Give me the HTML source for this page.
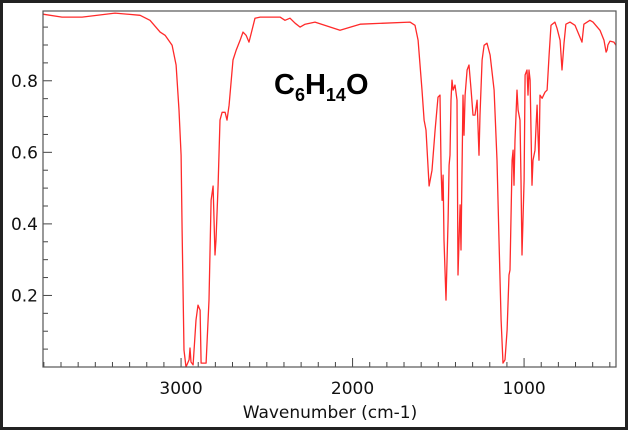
<!DOCTYPE html>
<html><head><meta charset="utf-8"><style>
html,body{margin:0;padding:0;background:#fff}
svg{display:block}
text{font-family:"DejaVu Sans","Liberation Sans",sans-serif}
</style></head><body>
<svg id="c" width="628" height="430" viewBox="0 0 628 430">
<rect x="1.5" y="1.5" width="625" height="427" fill="#fff" stroke="#222" stroke-width="3"/>
<g id="axes"></g>
<text x="274" y="94" font-weight="bold" font-size="29" style="font-family:'Liberation Sans',sans-serif">C<tspan font-size="18" dy="7">6</tspan><tspan dy="-7">H</tspan><tspan font-size="18" dy="7">14</tspan><tspan dy="-7">O</tspan></text>
<text x="330" y="418" text-anchor="middle" font-size="17" fill="#111">Wavenumber (cm-1)</text>
</svg>
<script>
const wavenumbers=[3805,3694,3577,3385,3239,3181,3122,3093,3052,3029,3012,3000,2994,2983,2971,2953,2948,2942,2930,2913,2901,2889,2883,2854,2837,2825,2813,2802,2796,2784,2773,2761,2743,2732,2720,2697,2679,2656,2639,2621,2604,2569,2539,2423,2394,2365,2335,2306,2277,2219,2073,1956,1665,1636,1618,1595,1583,1572,1554,1537,1519,1502,1490,1484,1478,1472,1467,1455,1443,1437,1432,1426,1420,1414,1403,1391,1385,1373,1368,1356,1350,1344,1332,1321,1309,1298,1286,1274,1263,1257,1245,1233,1216,1198,1175,1158,1146,1134,1123,1111,1099,1088,1082,1070,1064,1059,1053,1041,1035,1024,1018,1012,1000,994,983,977,971,965,954,948,936,930,924,919,913,907,895,878,866,854,843,820,808,790,779,767,756,732,703,662,651,616,598,557,534,522,516,511,499,476,464];
const transmittance=[.986,.978,.978,.989,.983,.969,.936,.927,.899,.844,.718,.592,.383,.047,0,.02,.053,.014,.006,.131,.173,.159,.011,.011,.187,.466,.506,.313,.355,.508,.690,.712,.712,.690,.732,.858,.885,.913,.936,.927,.908,.975,.978,.978,.969,.975,.961,.950,.958,.964,.941,.958,.964,.955,.913,.774,.690,.662,.506,.550,.662,.754,.760,.550,.466,.536,.355,.187,.411,.564,.592,.746,.802,.774,.788,.746,.257,.453,.327,.760,.648,.760,.830,.844,.774,.704,.704,.746,.592,.704,.858,.899,.905,.872,.774,.578,.355,.131,.011,.020,.103,.257,.271,.578,.606,.508,.634,.774,.718,.690,.522,.313,.522,.816,.830,.760,.830,.802,.508,.578,.606,.676,.732,.648,.578,.760,.751,.768,.774,.872,.955,.964,.947,.913,.830,.905,.958,.964,.955,.908,.958,.969,.964,.941,.913,.880,.886,.900,.911,.908,.899];
const yTicks=[0.2,0.4,0.6,0.8];
const xTicks=[3000,2000,1000];
const L=43,R=616,T=11,B=367,X0=3805,X1=464,Y0=0,Y1=0.995;
const sx=w=>L+(X0-w)/(X0-X1)*(R-L);
const sy=v=>B-(v-Y0)/(Y1-Y0)*(B-T);
const NS='http://www.w3.org/2000/svg';
const g=document.getElementById('axes');
function mk(t,a){const e=document.createElementNS(NS,t);for(const k in a)e.setAttribute(k,a[k]);g.appendChild(e);return e;}
let d='';
for(let i=0;i<wavenumbers.length;i++){d+=(i?'L':'M')+sx(wavenumbers[i]).toFixed(1)+','+sy(transmittance[i]).toFixed(1);}
const line=mk('path',{d:d,fill:'none',stroke:'#ff2a2a','stroke-width':1.3,'stroke-linejoin':'round'});


for(let v=0.05;v<Y1;v+=0.05){const y=sy(v);const major=Math.abs(v*10-Math.round(v*10))<0.01&&Math.round(v*10)%2===0;mk('line',{x1:L,x2:L+(major?9:5),y1:y,y2:y,stroke:'#444','stroke-width':1});}
for(let w=3800;w>X1;w-=100){const x=sx(w);const major=w%1000===0;mk('line',{x1:x,x2:x,y1:B,y2:B-(major?9:5),stroke:'#444','stroke-width':1});}
yTicks.forEach(v=>{const t=mk('text',{x:38,y:sy(v)+6,'text-anchor':'end','font-size':17,fill:'#111'});t.textContent=v.toFixed(1);

});
xTicks.forEach(w=>{const t=mk('text',{x:sx(w),y:394,'text-anchor':'middle','font-size':17,fill:'#111'});t.textContent=w;

});
const box=mk('rect',{x:L,y:T,width:R-L,height:B-T,fill:'none',stroke:'#555','stroke-width':1.2});


</script>
</body></html>
